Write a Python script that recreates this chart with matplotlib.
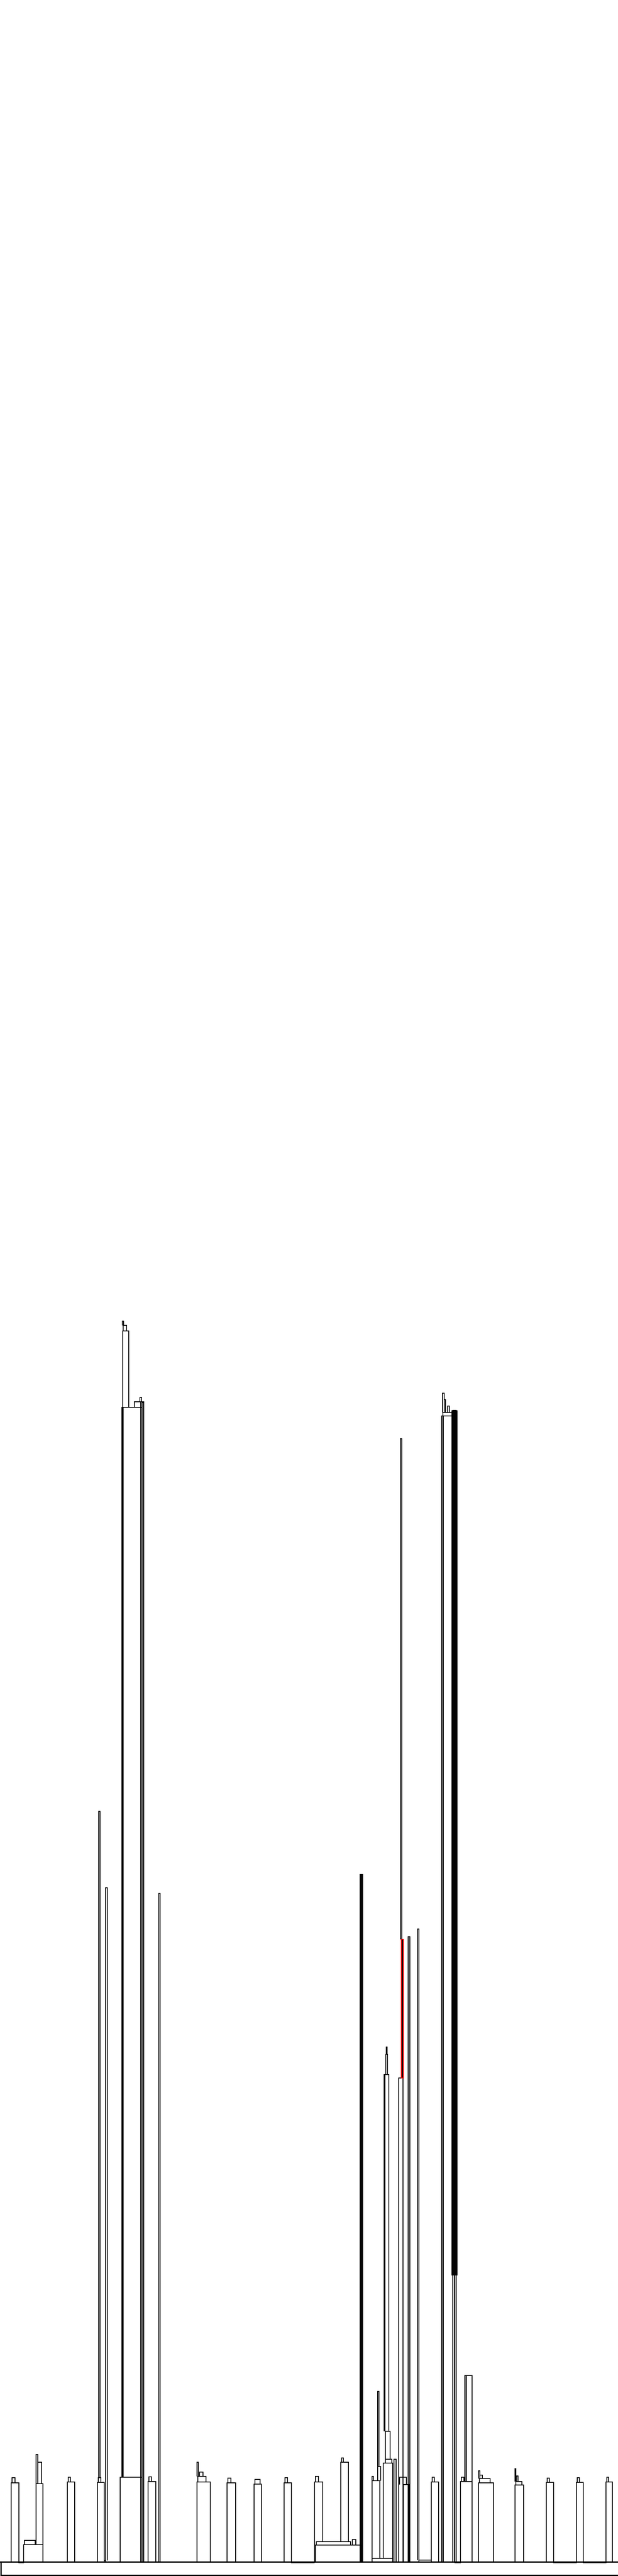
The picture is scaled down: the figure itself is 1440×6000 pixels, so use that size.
#!/usr/bin/env python3
"""
Tree outline (dendrogram-style links) drawn on a tall 1440x6000 canvas.

Every link is (x_left, x_right, base_left, base_right, top):
left leg up from base_left to top, across, right leg down to base_right.
Heights are measured up from the baseline.
"""

import matplotlib
matplotlib.use("Agg")
import matplotlib.pyplot as plt

# --- data ---------------------------------------------------------------
tower_a = [(26, 44, 0, 0, 184), (28, 35, 184, 184, 196)]
tower_b = [(55, 100, 0, 0, 40), (57, 82, 40, 40, 50), (84, 100, 40, 40, 182),
           (88, 97, 182, 182, 232), (84, 88, 182, 182, 250)]
tower_c = [(157, 174, 0, 0, 186), (159, 164, 186, 186, 197)]
tower_d = [(227, 243, 0, 0, 185), (229, 235, 185, 185, 196), (230, 233, 196, 196, 1748)]
thin_pair = [(243, 246, 0, 0, 3), (246, 250, 3, 3, 1570)]
tower_e = [(280, 331, 0, 0, 197), (286, 331, 197, 0, 2689), (284, 287, 197, 197, 2689),
           (328, 335, 0, 0, 2702), (331, 334, 0, 0, 2700), (313, 328, 2689, 2689, 2702),
           (326, 330, 2702, 2702, 2712), (286, 300, 2689, 2689, 2867),
           (287, 295, 2867, 2867, 2880), (285, 288, 2880, 2880, 2890)]
tower_w = [(345, 363, 0, 0, 187), (347, 353, 187, 187, 198)]
line_371 = [(370, 373, 0, 0, 1557)]
tower_f = [(459, 490, 0, 0, 186), (461, 480, 186, 186, 199), (465, 473, 199, 199, 209),
           (459, 462, 199, 199, 232)]
tower_g = [(529, 549, 0, 0, 184), (531, 538, 184, 184, 195)]
tower_h = [(592, 609, 0, 0, 181), (594, 606, 181, 181, 192)]
tower_i = [(662, 679, 0, 0, 184), (664, 670, 184, 184, 196)]
tower_j = [(735, 842, 0, 0, 39), (737, 817, 39, 39, 47), (733, 752, 0, 47, 186),
           (735, 742, 186, 186, 199), (821, 829, 39, 39, 52)]
tower_k = [(794, 812, 47, 47, 232), (796, 800, 232, 232, 242)]
thick_842 = [(839, 845, 0, 0, 1601), (841, 843, 0, 0, 1601)]
mid_left = [(867, 915, 0, 0, 8), (867, 885, 0, 8, 189), (867, 870, 189, 189, 199),
            (880, 887, 189, 189, 222), (880, 883, 222, 222, 397)]
tower_l = [(893, 915, 8, 0, 230), (898, 913, 230, 230, 239), (898, 909, 239, 239, 304),
           (896, 906, 304, 304, 1135), (895, 897, 304, 304, 1135),
           (899, 903, 1135, 1135, 1182), (900, 902, 1182, 1182, 1199)]
mid_right = [(918, 923, 0, 0, 239), (929, 939, 0, 0, 1127), (936, 938, 1127, 1127, 1450),
             (933, 936, 1450, 1450, 2616), (940, 953, 0, 0, 180), (931, 947, 180, 180, 197),
             (951, 955, 0, 0, 1456), (976, 1005, 0, 0, 4), (973, 976, 4, 4, 1474)]
red_links = [(935, 940, 1127, 1127, 1450)]
tower_o = [(1005, 1022, 0, 0, 186), (1007, 1012, 186, 186, 197)]
tower_m = [(1030, 1055, 0, 0, 2669), (1029, 1033, 0, 0, 2669), (1055, 1063, 0, 0, 2682),
           (1057, 1061, 667, 667, 2680), (1053, 1065, 667, 667, 2681), (1059, 1060, 0, 0, 2678),
           (1032, 1053, 2669, 2669, 2677), (1031, 1035, 2677, 2677, 2722),
           (1035, 1038, 2677, 2677, 2707), (1043, 1047, 2677, 2677, 2692)]
tower_n = [(1073, 1100, 0, 0, 187), (1075, 1081, 187, 187, 197), (1084, 1100, 187, 187, 434),
           (1083, 1087, 187, 187, 434)]
tower_q = [(1115, 1150, 0, 0, 184), (1117, 1142, 184, 184, 194), (1118, 1124, 194, 194, 202),
           (1115, 1118, 194, 194, 212)]
tower_r = [(1200, 1220, 0, 0, 179), (1202, 1216, 179, 179, 187), (1203, 1207, 187, 187, 200),
           (1200, 1202, 187, 187, 217)]
tower_s = [(1273, 1290, 0, 0, 185), (1275, 1280, 185, 185, 195)]
tower_t = [(1343, 1359, 0, 0, 185), (1345, 1350, 185, 185, 196)]
tower_u = [(1412, 1427, 0, 0, 186), (1414, 1418, 186, 186, 197)]
# little dips just under the baseline joining neighbouring towers
join_links = [(44, 55, 0, 0, -2), (679, 732, 0, 0, -2), (1060, 1073, 0, 0, -2),
              (1290, 1343, 0, 0, -2), (1359, 1412, 0, 0, -2)]

black_groups = [tower_a, tower_b, tower_c, tower_d, thin_pair, tower_e, tower_w, line_371,
                tower_f, tower_g, tower_h, tower_i, tower_j, tower_k, thick_842, mid_left,
                tower_l, mid_right, tower_o, tower_m, tower_n, tower_q, tower_r, tower_s,
                tower_t, tower_u, join_links]

X_MAX = 1440
H_TOP = 5967      # height shown above the baseline
H_BOTTOM = -33    # space under the baseline
BOX_BOTTOM = -31


def draw_link(ax, link, color, closed=False, lw=1.4):
    xl, xr, bl, br, top = link
    xs = [xl, xl, xr, xr]
    ys = [bl, top, top, br]
    if closed:
        xs.append(xl)
        ys.append(bl)
    ax.plot(xs, ys, color=color, lw=lw, solid_joinstyle="miter",
            solid_capstyle="butt")


def main():
    fig = plt.figure(figsize=(14.4, 60), dpi=100)
    ax = fig.add_axes([0, 0, 1, 1])
    ax.set_xlim(0, X_MAX)
    ax.set_ylim(H_BOTTOM, H_TOP)
    ax.axis("off")

    # baseline box
    ax.plot([0, X_MAX], [0, 0], color="black", lw=2.2)
    ax.plot([2, X_MAX], [BOX_BOTTOM, BOX_BOTTOM], color="black", lw=2.2)
    ax.plot([2, 2], [0, BOX_BOTTOM], color="black", lw=2.2)

    for group in black_groups:
        for link in group:
            draw_link(ax, link, "black")

    for link in red_links:
        draw_link(ax, link, "red", closed=True)

    fig.savefig("out.png", dpi=100)
    print("saved out.png")


if __name__ == "__main__":
    main()
